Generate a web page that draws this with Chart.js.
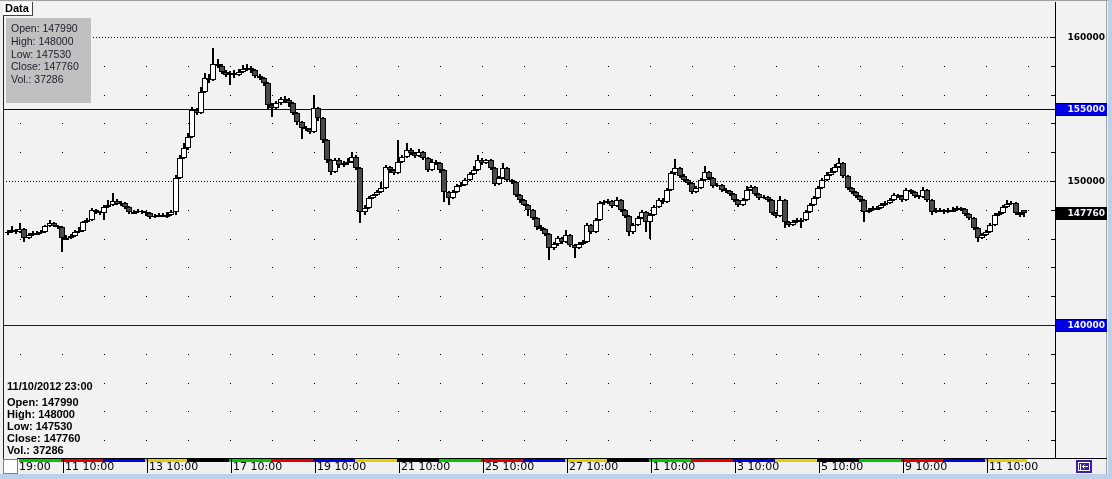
<!DOCTYPE html>
<html>
<head>
<meta charset="utf-8">
<script src="https://cdn.jsdelivr.net/npm/chart.js@4.4.1/dist/chart.umd.min.js"></script>
<style>
  html, body { margin: 0; padding: 0; background: #f0f0f0; }
  #wrap { width: 1112px; height: 479px; }
</style>
</head>
<body>
<div id="wrap"><canvas id="Graph"></canvas></div>
<script>
// hourly candles
const opens = [
  146390,146460,146600,146460,146670,146040,146250,146390,146390,146460,
  146880,147080,146880,146810,146040,146040,146180,146460,146530,147150,
  147290,147990,147850,147780,148190,148330,148610,148400,148470,148190,
  147850,147850,147920,147850,147780,147500,147570,147640,147640,147640,
  147850,150210,151600,152290,153060,154930,154720,156180,157150,157010,
  158130,157990,157570,157360,157500,157360,157570,157780,157850,157710,
  157290,157150,156810,155280,155070,155420,155690,155630,155420,154720,
  154100,153680,153610,153400,155070,154380,152850,151460,150630,151460,
  151110,151250,151320,151670,150900,147850,148130,148820,149030,149240,
  149510,150970,150760,150560,151320,151670,152150,151940,151740,152010,
  151600,150760,151320,151250,150760,149240,148820,149240,149650,149720,
  150070,150490,150760,151460,151250,151460,150900,149790,150210,150900,
  150070,149930,149030,148680,148330,147990,147430,146810,146670,146320,
  145350,145630,146040,145760,146250,145560,145350,145630,145760,146940,
  146460,147290,148470,148540,148610,148260,148680,147990,147570,146460,
  146940,147430,147850,147150,147640,148190,148680,148540,149380,150560,
  150900,150350,150070,149860,149240,149510,150070,150630,150210,149650,
  149720,149380,149310,149100,148680,148330,148680,149380,149580,149100,
  148820,148890,148680,147780,147570,148680,147150,146940,147150,147290,
  147290,147850,148330,148820,149510,150070,150420,150630,150970,151250,
  150350,149510,149240,148960,148680,147850,147990,148130,148130,148330,
  148470,148680,149030,148960,148680,149380,149240,148960,148890,149380,
  148680,147850,147990,147990,147850,147990,147990,148130,148060,147710,
  147430,146740,146040,146250,146460,146940,147640,147780,148190,148400,
  148470,147780,147990
];
const highs = [
  146600,146880,146670,147080,146740,146390,146530,146530,146600,146950,
  147290,147150,146950,146880,146250,146320,146600,146810,147220,147430,
  148130,148060,147920,148330,148680,149170,148750,148610,148540,148260,
  147990,148060,147990,147920,147850,147710,147780,147780,147850,147990,
  150420,151810,152640,153330,155140,155070,156530,157500,157430,159240,
  158470,158130,157710,157640,157710,157780,158060,158130,157990,157780,
  157430,157220,156880,155420,155560,155830,155900,155760,155490,154790,
  154170,153820,153680,155970,155140,154440,152920,151530,151600,151600,
  151390,151600,152010,151810,150970,148330,148960,149100,149380,149930,
  151110,151040,150830,152850,151810,152640,152290,152010,152220,152080,
  151670,151530,151460,151320,150830,149310,149380,149790,149930,150210,
  150630,151040,151810,151600,151530,151530,150970,150350,151250,150970,
  150140,150000,149100,148750,148400,148060,147500,146950,146740,146390,
  145760,146180,146110,146600,146320,145630,145760,145900,147080,147010,
  147430,148610,148680,148750,148680,148890,148750,148060,147640,147080,
  147570,147990,147920,147780,148330,148820,148820,149510,150690,151530,
  150970,150490,150140,149930,149650,150210,151040,150690,150280,149860,
  149790,149510,149380,149170,148750,148820,149650,149720,149650,149170,
  149030,148960,148750,147850,148960,148750,147220,147290,147430,147430,
  147990,148470,148960,149650,150210,150630,150900,151180,151600,151320,
  150420,149580,149310,149030,148750,148130,148260,148260,148470,148610,
  148820,149170,149100,149030,149510,149440,149310,149030,149580,149440,
  148750,148130,148130,148060,148130,148190,148260,148190,148130,147780,
  147500,146810,146390,146600,147080,147780,147920,148330,148680,148610,
  148540,147850,148000
];
const lows = [
  146250,146390,146320,146390,145760,145970,146180,146250,146320,146390,
  146810,146810,146670,145070,145900,145970,146110,146390,146460,147080,
  147220,147710,147640,147290,148120,148260,148330,148260,148060,147710,
  147710,147780,147710,147570,147360,147430,147500,147500,147430,147570,
  147640,150140,151530,152150,152990,154580,154650,156110,156810,156950,
  157850,157430,157220,156670,157150,157290,157500,157640,157500,157150,
  157010,156600,155000,154440,154930,155280,155420,155140,154580,153880,
  152920,153470,153260,153330,154170,152640,151250,150420,150560,150900,
  150970,151110,151250,150760,147080,147640,148060,148750,148960,149170,
  149440,150560,150420,150490,151250,151600,151810,151600,151670,151460,
  150630,150690,151110,150560,148540,148330,148750,149170,149580,149650,
  150000,150420,150690,151110,151180,150760,149650,149720,150140,149930,
  149790,148890,148470,148260,147570,147290,146600,146530,146180,144510,
  145210,145490,145630,145690,145420,144650,145280,145560,145690,146320,
  146390,147220,148330,148400,148120,148190,147850,147430,146180,146320,
  146880,147360,146460,145970,147570,148120,148400,148470,149310,150420,
  150210,149930,149720,149100,149170,149440,150000,150070,149510,149580,
  149240,149170,148960,148540,148190,148260,148610,149310,148960,148680,
  148750,148540,147640,147430,147500,146740,146810,146880,147080,146740,
  147220,147780,148260,148750,149440,150000,150350,150560,150900,150210,
  149380,149100,148820,148540,147150,147780,147920,147990,148060,148260,
  148400,148610,148820,148540,148610,149100,148820,148750,148820,148540,
  147640,147780,147850,147710,147780,147850,147920,147920,147570,147290,
  146600,145760,145970,146180,146390,146880,147570,147710,148120,148330,
  147640,147500,147530
];
const closes = [
  146460,146600,146460,146670,146040,146250,146390,146390,146460,146880,
  147080,146880,146810,146040,146040,146180,146460,146530,147150,147290,
  147990,147850,147780,148190,148330,148610,148400,148470,148190,147850,
  147850,147920,147850,147780,147500,147570,147640,147640,147640,147850,
  150210,151600,152290,153060,154930,154720,156180,157150,157010,158130,
  157990,157570,157360,157500,157360,157570,157780,157850,157710,157290,
  157150,156810,155280,155070,155420,155690,155630,155420,154720,154100,
  153680,153610,153400,155070,154380,152850,151460,150630,151460,151110,
  151250,151320,151670,150900,147850,148130,148820,149030,149240,149510,
  150970,150760,150560,151320,151670,152150,151940,151740,152010,151600,
  150760,151320,151250,150760,149240,148820,149240,149650,149720,150070,
  150490,150760,151460,151250,151460,150900,149790,150210,150900,150070,
  149930,149030,148680,148330,147990,147430,146810,146670,146320,145350,
  145630,146040,145760,146250,145560,145350,145630,145760,146940,146460,
  147290,148470,148540,148610,148260,148680,147990,147570,146460,146940,
  147430,147850,147150,147640,148190,148680,148540,149380,150560,150900,
  150350,150070,149860,149240,149510,150070,150630,150210,149650,149720,
  149380,149310,149100,148680,148330,148680,149380,149580,149100,148820,
  148890,148680,147780,147570,148680,147150,146940,147150,147290,147290,
  147850,148330,148820,149510,150070,150420,150630,150970,151250,150350,
  149510,149240,148960,148680,147850,147990,148130,148130,148330,148470,
  148680,149030,148960,148680,149380,149240,148960,148890,149380,148680,
  147850,147990,147990,147850,147990,147990,148130,148060,147710,147430,
  146740,146040,146250,146460,146940,147640,147780,148190,148400,148470,
  147780,147640,147760
];
const lastVolume = 37286;
const lastStamp = "11/10/2012 23:00";

const tickLabels = ["19:00","11 10:00","13 10:00","17 10:00","19 10:00","21 10:00","25 10:00",
  "27 10:00","1 10:00","3 10:00","5 10:00","9 10:00","11 10:00"];
const tickAt = [2.24,13.24,33.24,53.24,73.24,93.24,113.24,133.24,153.24,173.24,193.24,213.24,233.24];

const levelLines = [155000, 140000];
const levelColors = ["#00008c", "#0000ff"];

const yMin = 130764;
const yMax = 162222;
const slotCount = 250;   // a few empty slots on the right
const barsPerDay = 10;
const dayCount = 24;
const dayColors = ["#00c800", "#e00000", "#0000e0", "#e0d000", "#000000"];

const slots = Array.from({length: slotCount}, (_, i) => i);

const decor = {
    id: "decor",
    afterDatasetsUpdate(chart){
        // snap candles onto whole pixels so they look crisp
        chart.getDatasetMeta(0).data.forEach(el => {
            el.x = Math.floor(el.x) + 1;
            el.width = 6;
            let a = Math.round(el.y), b = Math.round(el.base);
            if (a === b) b = a + 2;
            el.y = a; el.base = b;
        });
        chart.getDatasetMeta(1).data.forEach(el => {
            el.x = Math.floor(el.x) + 1;
            el.width = 2;
            el.y = Math.round(el.y); el.base = Math.round(el.base);
        });
    },
    beforeDraw(chart){
        const ctx = chart.ctx;
        ctx.save();
        ctx.fillStyle = "#f0f0f0"; ctx.fillRect(0, 0, chart.width, chart.height);
        ctx.fillStyle = "#f2f2f2"; ctx.fillRect(3, 2, 1103, 457);
        ctx.fillStyle = "#a0a0a0"; ctx.fillRect(0, 0, 1108, 1);
        ctx.fillRect(1106, 1, 1, 473);
        ctx.fillStyle = "#b9d1ea"; ctx.fillRect(0, 474, chart.width, 5);
        ctx.fillRect(1108, 0, 4, chart.height);
        ctx.restore();
    },
    beforeDatasetsDraw(chart){
        const ctx = chart.ctx, xs = chart.scales.x, ys = chart.scales.y, a = chart.chartArea;
        ctx.save();
        ctx.fillStyle = "#000";
        for (let v = 132000; v <= 160000; v += 2000){
            const py = Math.round(ys.getPixelForValue(v));
            if (v % 10000 === 0){
                if (levelLines.includes(v)) continue;
                for (let px = a.left + 1; px < a.right - 2; px += 3) ctx.fillRect(px, py, 1, 1);
            } else {
                for (let n = 0; n <= dayCount; n++){
                    const px = Math.floor(xs.getPixelForValue(3.24 + barsPerDay * n));
                    ctx.fillRect(px, py, 1, 1);
                }
            }
        }
        levelLines.forEach((v, i) => {
            ctx.fillStyle = levelColors[i];
            ctx.fillRect(3, Math.round(ys.getPixelForValue(v)), 1052, 1);
        });
        ctx.restore();
    },
    afterDatasetsDraw(chart){
        const ctx = chart.ctx, xs = chart.scales.x, ys = chart.scales.y;
        const last = closes.length - 1;
        ctx.save();
        ctx.textBaseline = "middle";

        // frame + price axis
        ctx.fillStyle = "#202020"; ctx.fillRect(3, 2, 1, 457);
        ctx.fillStyle = "#000"; ctx.fillRect(1055, 2, 1, 457);
        ctx.font = "bold 9px 'DejaVu Sans'";
        ctx.textAlign = "right";
        for (let v = 132000; v <= 160000; v += 2000){
            const py = Math.round(ys.getPixelForValue(v));
            ctx.fillStyle = "#000";
            ctx.fillRect(1051, py, 4, 1);
            if (v % 10000 === 0 && !levelLines.includes(v)) ctx.fillText(String(v), 1105, py + 0.5);
        }
        const priceBox = (v, fill) => {
            const py = Math.round(ys.getPixelForValue(v));
            ctx.fillStyle = "#000"; ctx.fillRect(1056, py - 6, 51, 13);
            ctx.fillStyle = fill; ctx.fillRect(1056, py - 5, 51, 11);
            ctx.fillStyle = "#f4f4ff"; ctx.fillText(String(v), 1105, py + 0.5);
        };
        levelLines.forEach(v => priceBox(v, "#0000e6"));
        priceBox(closes[last], "#000");

        // time axis with day colours
        ctx.fillStyle = "#000"; ctx.fillRect(17, 458, 1090, 1);
        for (let n = 0; n < dayCount; n++){
            const x0 = xs.getPixelForValue(3.24 + barsPerDay * n) - 1.5;
            const x1 = xs.getPixelForValue(3.24 + barsPerDay * (n + 1)) - 1.5;
            ctx.fillStyle = dayColors[n % dayColors.length];
            ctx.fillRect(Math.round(x0), 459, Math.round(x1) - Math.round(x0), 3);
        }
        ctx.font = "11px 'DejaVu Sans'";
        ctx.textAlign = "left";
        tickLabels.forEach((t, i) => {
            const tx = Math.round(xs.getPixelForValue(tickAt[i]));
            ctx.fillStyle = "#000";
            ctx.fillRect(tx, 459, 1, 14);
            ctx.fillText(t, tx + 2, 467.5);
        });
        ctx.fillStyle = "#fff"; ctx.fillRect(3, 459, 14, 14);
        ctx.strokeStyle = "#808080"; ctx.lineWidth = 1; ctx.strokeRect(3.5, 459.5, 14, 14);

        // scroll button
        ctx.fillStyle = "#3c1ea8"; ctx.fillRect(1076, 460, 16, 13);
        ctx.strokeStyle = "#fff";
        ctx.strokeRect(1078.5, 462.5, 11, 8);
        ctx.beginPath();
        ctx.moveTo(1080.5, 464); ctx.lineTo(1080.5, 470);
        ctx.moveTo(1082, 466.5); ctx.lineTo(1088, 466.5);
        ctx.moveTo(1084.5, 464.5); ctx.lineTo(1082.5, 466.5); ctx.lineTo(1084.5, 468.5);
        ctx.stroke();

        // data window, top left
        const info = ["Open: " + opens[last], "High: " + highs[last], "Low: " + lows[last],
            "Close: " + closes[last], "Vol.: " + lastVolume];
        ctx.fillStyle = "#c0c0c0"; ctx.fillRect(6, 18, 85, 85);
        ctx.fillStyle = "#1c1c2c";
        ctx.font = "10.5px 'Liberation Sans'";
        info.forEach((t, i) => ctx.fillText(t, 11, 29.5 + i * 12.7));

        // same values, bottom left
        ctx.fillStyle = "#000";
        ctx.font = "bold 11px 'Liberation Sans'";
        ctx.fillText(lastStamp, 7, 386.5);
        info.forEach((t, i) => ctx.fillText(t, 7, 403 + i * 11.9));

        // "Data" tab
        ctx.fillStyle = "#fff"; ctx.fillRect(3, 2, 30, 13);
        ctx.fillStyle = "#404040"; ctx.fillRect(32, 2, 1, 14); ctx.fillRect(3, 15, 30, 1);
        ctx.fillStyle = "#000";
        ctx.font = "bold 11px 'Liberation Sans'";
        ctx.fillText("Data", 5, 9);
        ctx.restore();
    }
};

new Chart("Graph", {
    type: "bar",
    data: {
        labels: slots,
        datasets: [{
            label: "body",
            data: opens.map((o, i) => [o, closes[i]]),
            grouped: false,
            order: 0,
            backgroundColor: c => closes[c.dataIndex] >= opens[c.dataIndex] ? "#ffffff" : "#4a4a4a",
            borderColor: "#000",
            borderWidth: 1,
            borderSkipped: false,
            inflateAmount: 0
        }, {
            label: "wick",
            data: lows.map((l, i) => [l, highs[i]]),
            grouped: false,
            order: 1,
            backgroundColor: "#000",
            borderWidth: 0,
            inflateAmount: 0,
            maxBarThickness: 2
        }]
    },
    options: {
        responsive: true,
        maintainAspectRatio: false,
        animation: false,
        events: [],
        layout: {padding: {left: 5, top: 5, right: 57, bottom: 21}},
        plugins: {legend: {display: false}, tooltip: {enabled: false}},
        scales: {
            x: {type: "category", display: false, offset: true},
            y: {type: "linear", display: false, min: yMin, max: yMax}
        }
    },
    plugins: [decor]
});
</script>
</body>
</html>
